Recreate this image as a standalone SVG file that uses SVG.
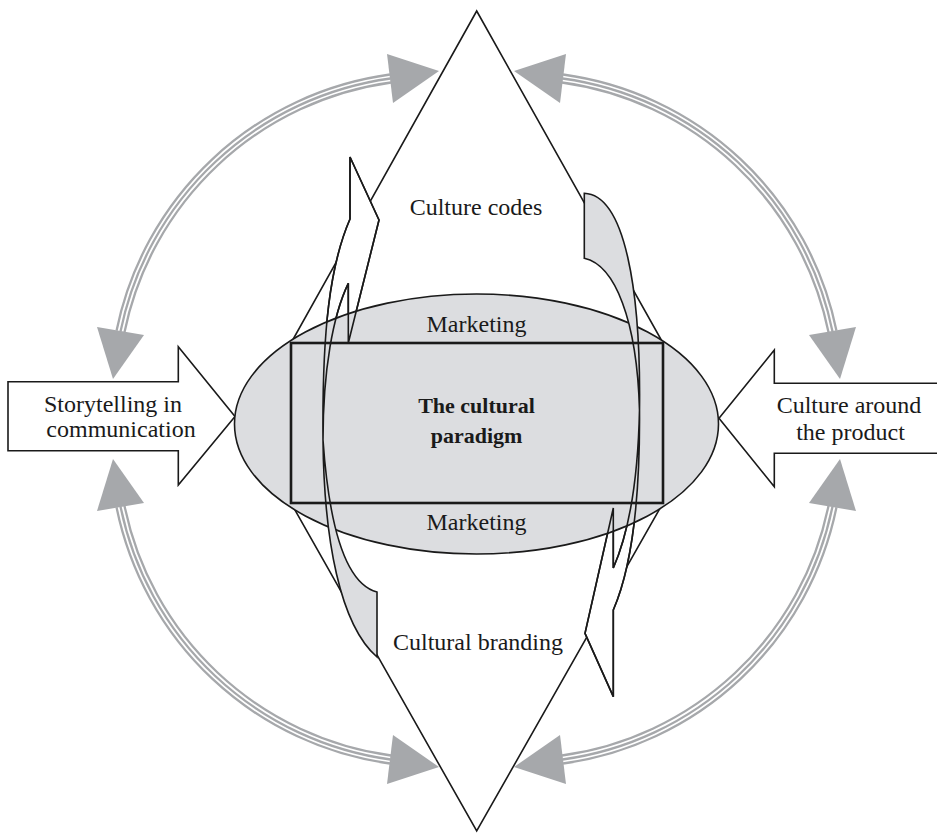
<svg xmlns="http://www.w3.org/2000/svg" xmlns:xlink="http://www.w3.org/1999/xlink" width="937" height="835" viewBox="0 0 937 835">
<style>
.ln{stroke:#1a1a1a;stroke-width:1.6;stroke-linejoin:miter}
.wf{fill:#ffffff}
.gf{fill:#dcdde0}
.nf{fill:none}
.frame{fill:none;stroke:#1a1a1a;stroke-width:2.6}
.t{font-family:"Liberation Serif","Times New Roman",serif;font-size:24px;fill:#1a1a1a;text-anchor:middle}
.b{font-weight:bold;font-size:22px}
.head{fill:#a6a8ab}
.arcO{fill:none;stroke:#a6a8ab;stroke-width:10.4}
.arcW{fill:none;stroke:#ffffff;stroke-width:5.8}
.arcI{fill:none;stroke:#a6a8ab;stroke-width:2.3}
</style>
<defs>
<path id="aTL" d="M120.5,331.5 A320,320 0 0 1 390.5,78.5"/>
<path id="aTR" d="M562.5,78.5 A320,320 0 0 1 832.5,331.5"/>
<path id="aBL" d="M120.5,506.5 A320,320 0 0 0 390.5,759.5"/>
<path id="aBR" d="M562.5,759.5 A320,320 0 0 0 832.5,506.5"/>
<path id="lf" d="M350,157 L379,220 L348.3,343 L348.3,283.3 C333,315 323,370 323,440 C322,330 330,265 350,219 Z"/>
<path id="lb" d="M323,440 C324,540 340,625 377,657 L377,592 C350,585 330,540 323,440 Z"/>
<path id="rf" d="M639.5,410 C640,480 635,560 613.3,610 L613.3,696.7 L585,633.3 L613.3,508 L613.3,568 C630,530 638,480 639.5,410 Z"/>
<path id="rb" d="M639.5,410 C641,290 625,195 584.3,193.3 L584.3,258.3 C615,265 637,320 639.5,410 Z"/>
</defs>

<g id="connectors">
  <g id="arc-top-left">
    <use xlink:href="#aTL" class="arcO"/><use xlink:href="#aTL" class="arcW"/><use xlink:href="#aTL" class="arcI"/>
    <polygon class="head" points="97,327 144,335 113,379"/>
    <polygon class="head" points="387,54 393,103 439,71"/>
  </g>
  <g id="arc-top-right">
    <use xlink:href="#aTR" class="arcO"/><use xlink:href="#aTR" class="arcW"/><use xlink:href="#aTR" class="arcI"/>
    <polygon class="head" points="566,54 560,103 514,71"/>
    <polygon class="head" points="856,327 809,335 840,379"/>
  </g>
  <g id="arc-bottom-left">
    <use xlink:href="#aBL" class="arcO"/><use xlink:href="#aBL" class="arcW"/><use xlink:href="#aBL" class="arcI"/>
    <polygon class="head" points="97,511 144,503 113,459"/>
    <polygon class="head" points="387,784 393,735 439,767"/>
  </g>
  <g id="arc-bottom-right">
    <use xlink:href="#aBR" class="arcO"/><use xlink:href="#aBR" class="arcW"/><use xlink:href="#aBR" class="arcI"/>
    <polygon class="head" points="566,784 560,735 514,767"/>
    <polygon class="head" points="856,511 809,503 840,459"/>
  </g>
</g>

<g id="node-culture-codes">
  <polygon class="ln wf" points="476.7,11 291,343 663,343"/>
</g>
<g id="node-cultural-branding">
  <polygon class="ln wf" points="291,503 663,503 476.7,831"/>
</g>

<g id="node-storytelling">
  <polygon class="ln wf" points="8,381.7 178.3,381.7 178.3,346.7 235,416.5 178.3,485 178.3,450.7 8,450.7"/>
  <text class="t" x="113" y="411.7">Storytelling in</text>
  <text class="t" x="121" y="436.7">communication</text>
</g>

<g id="node-culture-around">
  <polygon class="ln wf" points="942,383.3 774.3,383.3 774.3,350 719,418.3 774.3,486.7 774.3,453.3 942,453.3"/>
  <text class="t" x="849" y="413">Culture around</text>
  <text class="t" x="850.5" y="440">the product</text>
</g>

<g id="curved-arrow-fills">
  <use xlink:href="#lf" class="ln wf"/>
  <use xlink:href="#rf" class="ln wf"/>
</g>

<g id="node-paradigm">
  <ellipse class="ln gf" cx="476.5" cy="424" rx="242" ry="130"/>
</g>

<g id="curved-arrows">
  <g id="curved-arrow-left">
    <use xlink:href="#lb" class="ln gf"/>
    <use xlink:href="#lf" class="ln nf"/>
  </g>
  <g id="curved-arrow-right">
    <use xlink:href="#rb" class="ln gf"/>
    <use xlink:href="#rf" class="ln nf"/>
  </g>
</g>

<g id="node-paradigm-frame">
  <rect class="frame" x="291" y="343" width="372" height="160"/>
  <text class="t" x="476.5" y="332">Marketing</text>
  <text class="t b" x="476.5" y="413">The cultural</text>
  <text class="t b" x="476.5" y="443">paradigm</text>
  <text class="t" x="476.5" y="530">Marketing</text>
</g>

<g id="labels">
  <text class="t" x="476" y="215">Culture codes</text>
  <text class="t" x="478" y="650">Cultural branding</text>
</g>
</svg>
